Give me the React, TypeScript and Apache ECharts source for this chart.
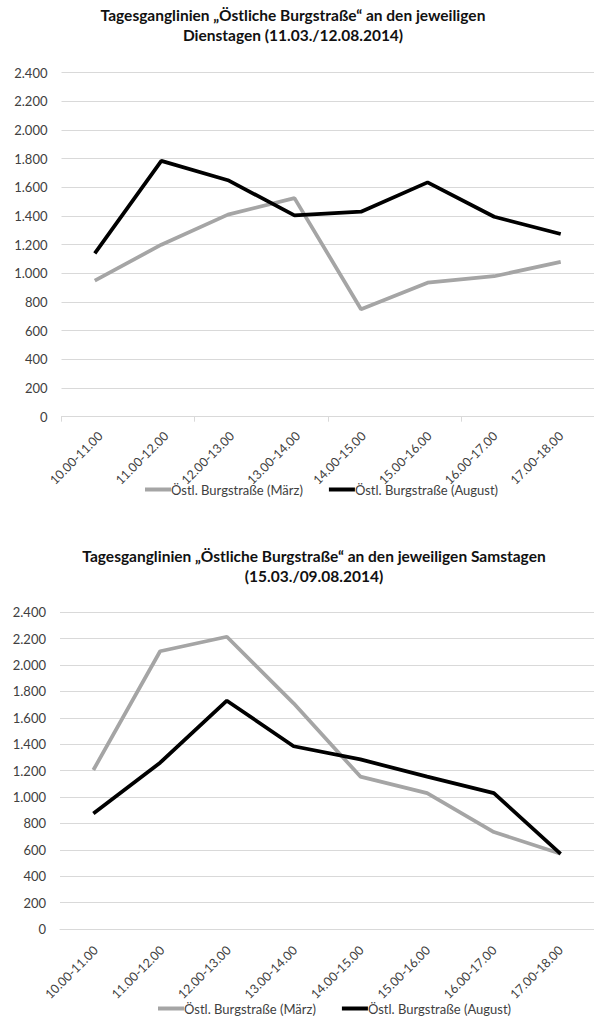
import React, { useEffect, useRef } from "react";
import * as echarts from "echarts";

const categories = ["10.00-11.00", "11.00-12.00", "12.00-13.00", "13.00-14.00", "14.00-15.00", "15.00-16.00", "16.00-17.00", "17.00-18.00"];
const seriesNames = ["Östl. Burgstraße (März)", "Östl. Burgstraße (August)"];
const dienstagMaerz = [950, 1200, 1410, 1525, 750, 935, 980, 1080];
const dienstagAugust = [1140, 1785, 1650, 1405, 1430, 1635, 1395, 1275];
const samstagMaerz = [1205, 2105, 2215, 1710, 1155, 1030, 735, 570];
const samstagAugust = [875, 1260, 1730, 1385, 1285, 1155, 1030, 570];
const title1 = ["Tagesganglinien „Östliche Burgstraße“ an den jeweiligen", "Dienstagen (11.03./12.08.2014)"];
const title2 = ["Tagesganglinien „Östliche Burgstraße“ an den jeweiligen Samstagen", "(15.03./09.08.2014)"];

const FONT = "Lato, 'Open Sans', sans-serif";
const GRAY = "#A5A5A5";
const BLACK = "#000000";
const TEXT = "#404040";

export default function App() {
  const ref = useRef<HTMLDivElement>(null);
  useEffect(() => {
    if (!ref.current) return;
    const chart = echarts.init(ref.current, null, { renderer: "svg" });
    const yAxisBase = (gridIndex: number) => ({
      type: "value",
      gridIndex,
      min: 0,
      max: 2400,
      interval: 200,
      axisLine: { show: false },
      axisTick: { show: false },
      splitLine: { lineStyle: { color: "#D9D9D9", width: 1 } },
      axisLabel: {
        fontFamily: FONT,
        fontSize: 13,
        color: TEXT,
        margin: 14,
        formatter: (v: number) => v.toLocaleString("de-DE"),
      },
    });
    const hiddenY = (gridIndex: number) => ({
      type: "value",
      gridIndex,
      min: 0,
      max: 2400,
      show: false,
    });
    const xAxisBase = (gridIndex: number, ticks: boolean) => ({
      type: "category",
      gridIndex,
      data: categories,
      boundaryGap: true,
      axisLine: { lineStyle: { color: "#D9D9D9" } },
      axisTick: { show: ticks, length: 5, lineStyle: { color: "#D9D9D9" } },
      axisLabel: { show: false },
    });
    const labelAxis = (gridIndex: number, margin: number) => ({
      type: "category",
      gridIndex,
      data: categories,
      boundaryGap: true,
      axisLine: { show: false },
      axisTick: { show: false },
      splitLine: { show: false },
      axisLabel: {
        rotate: 45,
        fontFamily: FONT,
        fontSize: 12.5,
        color: TEXT,
        margin,
        interval: 0,
      },
    });
    const line = (name: string, data: number[], color: string, idx: number) => ({
      type: "line",
      name,
      data,
      xAxisIndex: idx,
      yAxisIndex: idx,
      symbol: "none",
      lineStyle: { color, width: 3.75 },
      itemStyle: { color },
    });
    const legend = (left: number, top: number) => ({
      left,
      top,
      data: seriesNames,
      icon: "rect",
      itemWidth: 26,
      itemHeight: 4,
      itemGap: 26,
      textStyle: { fontFamily: FONT, fontSize: 13, color: TEXT, padding: [0, 0, 0, -5] },
    });
    const titleText = (lines: string[], x: number, y: number) => ({
      type: "text",
      x,
      y,
      style: {
        text: lines.join("\n"),
        align: "center",
        verticalAlign: "top",
        font: `bold 15.5px ${FONT}`,
        lineHeight: 20,
        fill: "#111111",
      },
    });
    chart.setOption({
      animation: false,
      backgroundColor: "#ffffff",
      grid: [
        { left: 61.5, right: -3.5, top: 72.7, height: 344 },
        { left: 60, right: -13, top: 612.3, height: 316.7 },
        { left: 67.5, right: -9.5, top: 72.7, height: 344 },
        { left: 62.5, right: -15.5, top: 612.3, height: 316.7 },
      ],
      xAxis: [xAxisBase(0, true), xAxisBase(1, false), labelAxis(2, 17), labelAxis(3, 19)],
      yAxis: [yAxisBase(0), yAxisBase(1), hiddenY(2), hiddenY(3)],
      legend: [legend(140, 478), legend(153, 997)],
      series: [
        line(seriesNames[0], dienstagMaerz, GRAY, 0),
        line(seriesNames[1], dienstagAugust, BLACK, 0),
        line(seriesNames[0], samstagMaerz, GRAY, 1),
        line(seriesNames[1], samstagAugust, BLACK, 1),
      ],
      graphic: [titleText(title1, 293, 5), titleText(title2, 314, 546)],
    });
    return () => chart.dispose();
  }, []);
  return (
    <div
      ref={ref}
      style={{ position: "absolute", left: 0, top: 0, width: 594, height: 1023, background: "#fff" }}
    />
  );
}
